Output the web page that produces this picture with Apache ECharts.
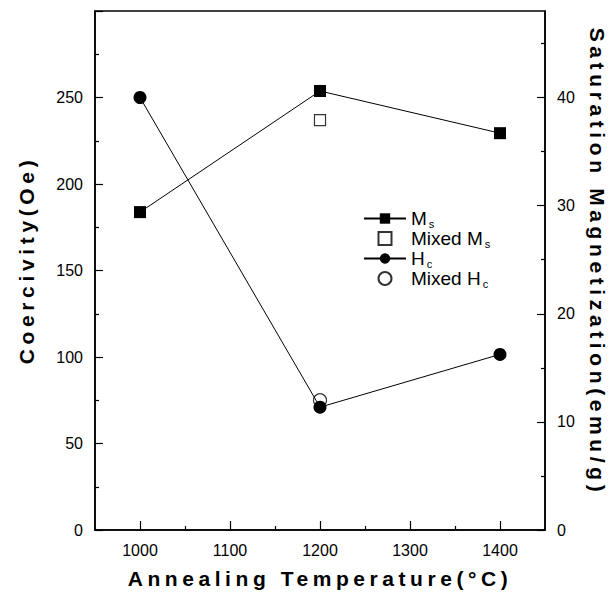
<!DOCTYPE html>
<html>
<head>
<meta charset="utf-8">
<script src="https://cdn.jsdelivr.net/npm/echarts@6/dist/echarts.min.js"></script>
<style>
  html, body { margin: 0; padding: 0; background: #fff; }
  #chart { width: 616px; height: 594px; }
</style>
</head>
<body>
<div id="chart"></div>
<script>
// data
var temps = [1000, 1200, 1400];
var msValues = [29.4, 40.6, 36.7];      // emu/g, right axis
var hcValues = [250, 71, 101.5];        // Oe, left axis
var mixedTemps = [1200];
var mixedMsValues = [37.9];
var mixedHcValues = [75];
var xMajorTicks = [1000, 1100, 1200, 1300, 1400];
var xMinorTicks = [1050, 1150, 1250, 1350];
var rightMajorTicks = [0, 10, 20, 30, 40];
var rightMinorTicks = [5, 15, 25, 35, 45];

function pairs(xs, ys) {
    return xs.map(function (x, i) { return [x, ys[i]]; });
}

var myChart = echarts.init(document.getElementById('chart'), null, { renderer: 'svg' });
var fontFamily = '"Liberation Sans", Arial, sans-serif';
var sub = {
    n: { fontSize: 19, color: '#000', fontFamily: fontFamily },
    s: { fontSize: 11, color: '#000', fontFamily: fontFamily, padding: [10, 0, 0, 2] }
};
var titleStyle = { fontSize: 21, fontWeight: 'bold', color: '#000', fontFamily: fontFamily };
var tickStyle = { fontSize: 16, color: '#000', margin: 12, fontFamily: fontFamily };

var option = {
    animation: false,
    backgroundColor: '#fff',
    grid: {
        left: 95, right: 65, top: 11, bottom: 64,
        show: true, borderColor: '#000', borderWidth: 1.5
    },
    legend: {
        orient: 'vertical',
        left: 358,
        top: 204,
        itemWidth: 42,
        itemHeight: 13,
        itemGap: 0,
        data: [
            { name: 'Ms' },
            { name: 'Mixed Ms', icon: 'path://M0,0L10,0L10,10L0,10Z' },
            { name: 'Hc' },
            { name: 'Mixed Hc' }
        ],
        formatter: function (name) {
            if (name === 'Ms') return '{n|M}{s|s}';
            if (name === 'Mixed Ms') return '{n|Mixed M}{s|s}';
            if (name === 'Hc') return '{n|H}{s|c}';
            return '{n|Mixed H}{s|c}';
        },
        textStyle: { rich: sub }
    },
    xAxis: [{
        type: 'value',
        min: 950, max: 1450,
        name: 'Annealing Temperature(°C)',
        nameLocation: 'middle',
        nameGap: 38,
        nameTextStyle: titleStyle,
        splitLine: { show: false },
        axisLine: { lineStyle: { color: '#000', width: 1.5 } },
        axisTick: { inside: true, length: 9, customValues: xMajorTicks, lineStyle: { color: '#000', width: 1.2 } },
        axisLabel: Object.assign({ customValues: xMajorTicks, formatter: function (v) { return String(v); } }, tickStyle)
    }, {
        type: 'value',
        position: 'bottom',
        min: 950, max: 1450,
        splitLine: { show: false },
        axisLine: { show: false },
        axisTick: { inside: true, length: 4, customValues: xMinorTicks, lineStyle: { color: '#000', width: 1.2 } },
        axisLabel: { show: false }
    }],
    yAxis: [{
        type: 'value',
        min: 0, max: 300, interval: 50,
        name: 'Coercivity(Oe)',
        nameLocation: 'middle',
        nameGap: 58,
        nameTextStyle: titleStyle,
        splitLine: { show: false },
        axisLine: { show: true, lineStyle: { color: '#000', width: 1.5 } },
        axisTick: { inside: true, length: 8, lineStyle: { color: '#000', width: 1.2 } },
        minorTick: { show: true, splitNumber: 2, length: 4, lineStyle: { color: '#000', width: 1.2 } },
        axisLabel: Object.assign({ formatter: function (v) { return v === 300 ? '' : String(v); } }, tickStyle)
    }, {
        type: 'value',
        position: 'right',
        min: 0, max: 48,
        name: 'Saturation Magnetization(emu/g)',
        nameLocation: 'middle',
        nameRotate: -90,
        nameGap: 42,
        nameTextStyle: titleStyle,
        splitLine: { show: false },
        axisLine: { show: true, lineStyle: { color: '#000', width: 1.5 } },
        axisTick: { inside: true, length: 8, customValues: rightMajorTicks, lineStyle: { color: '#000', width: 1.2 } },
        axisLabel: Object.assign({ customValues: rightMajorTicks }, tickStyle)
    }, {
        type: 'value',
        position: 'right',
        min: 0, max: 48,
        splitLine: { show: false },
        axisLine: { show: false },
        axisTick: { inside: true, length: 4, customValues: rightMinorTicks, lineStyle: { color: '#000', width: 1.2 } },
        axisLabel: { show: false }
    }],
    series: [{
        name: 'Ms',
        type: 'line',
        yAxisIndex: 1,
        data: pairs(temps, msValues),
        symbol: 'rect',
        symbolSize: 12,
        itemStyle: { color: '#000' },
        lineStyle: { color: '#000', width: 1 }
    }, {
        name: 'Mixed Ms',
        type: 'scatter',
        yAxisIndex: 1,
        data: pairs(mixedTemps, mixedMsValues),
        symbol: 'rect',
        symbolSize: 11,
        itemStyle: { color: '#fff', borderColor: '#000', borderWidth: 1.2 }
    }, {
        name: 'Hc',
        type: 'line',
        yAxisIndex: 0,
        data: pairs(temps, hcValues),
        symbol: 'circle',
        symbolSize: 13,
        itemStyle: { color: '#000' },
        lineStyle: { color: '#000', width: 1 }
    }, {
        name: 'Mixed Hc',
        type: 'scatter',
        yAxisIndex: 0,
        data: pairs(mixedTemps, mixedHcValues),
        symbol: 'circle',
        symbolSize: 13,
        itemStyle: { color: '#fff', borderColor: '#000', borderWidth: 1.2 }
    }]
};

myChart.setOption(option);

// the printed figure uses widely spaced axis titles:
// stretch each one to its printed length and centre it where it was printed
var titleSpan = {
    'Annealing Temperature(°C)': { len: 380, dir: 'right', center: 320 },
    'Coercivity(Oe)': { len: 204, dir: 'up', center: 260 },
    'Saturation Magnetization(emu/g)': { len: 464, dir: 'down', center: 262 }
};
function spreadTitles() {
    document.querySelectorAll('#chart text').forEach(function (t) {
        var span = titleSpan[t.textContent];
        if (!span) return;
        t.removeAttribute('letter-spacing');
        t.removeAttribute('dx');
        var natural = t.getComputedTextLength();
        var ls = (span.len - natural) / (t.textContent.length - 1);
        t.setAttribute('letter-spacing', ls);
        var r = t.getBoundingClientRect();
        var c = span.dir === 'right' ? r.left + r.width / 2 : r.top + r.height / 2;
        var dx = span.dir === 'up' ? c - span.center : span.center - c;
        t.setAttribute('dx', dx);
    });
}
spreadTitles();
myChart.on('finished', spreadTitles);
</script>
</body>
</html>
